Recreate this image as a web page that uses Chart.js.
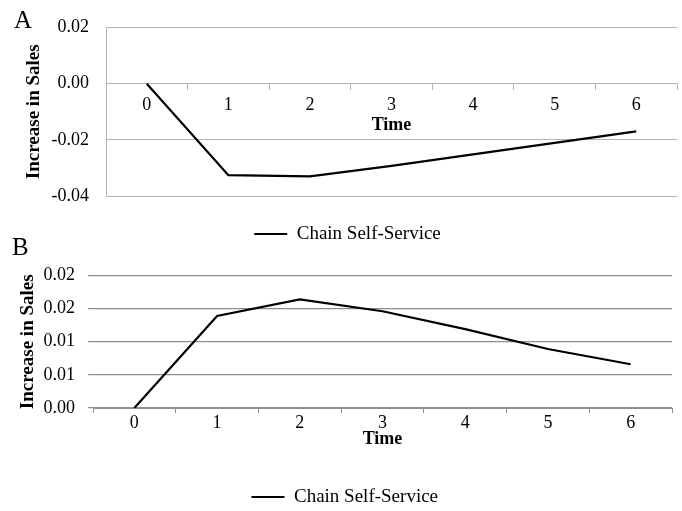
<!DOCTYPE html>
<html>
<head>
<meta charset="utf-8">
<script src="https://cdn.jsdelivr.net/npm/chart.js@4.4.1/dist/chart.umd.min.js"></script>
<style>
  html, body { margin: 0; padding: 0; background: #fff; }
  body { width: 682px; height: 511px; position: relative; overflow: hidden; }
  .panel { position: absolute; left: 0; width: 682px; }
  #wrapA { top: 0; height: 256px; }
  #wrapB { top: 250px; height: 270px; }
  .letter { position: absolute; font-family: "Liberation Serif", serif; font-size: 25px; line-height: 25px; color: #000; }
</style>
</head>
<body>
<div class="panel" id="wrapA"><canvas id="chartA"></canvas></div>
<div class="panel" id="wrapB"><canvas id="chartB"></canvas></div>
<div class="letter" style="left:14px;top:7px">A</div>
<div class="letter" style="left:12px;top:234px">B</div>
<script>
// values
const timeLabels = ['0', '1', '2', '3', '4', '5', '6'];
const seriesName = 'Chain Self-Service';
const salesA = [0, -0.0326, -0.0330, -0.0293, -0.0252, -0.0211, -0.0170];
const salesB = [0, 0.0139, 0.0164, 0.0146, 0.0119, 0.0089, 0.0066];
// tick labels, bottom to top
const yTicksA = ['-0.04', '-0.02', '0.00', '0.02'];
const yTicksB = ['0.00', '0.01', '0.01', '0.02', '0.02'];

const serif = '"Liberation Serif", "Times New Roman", serif';
const gridA = '#b3b3b3';
const gridB = '#8e8e8e';

function lineDataset(values) {
  return {
    label: seriesName,
    data: values,
    borderColor: '#000',
    backgroundColor: '#000',
    borderWidth: 2.2,
    pointRadius: 0,
    tension: 0
  };
}

function legendOpts(pad) {
  return {
    position: 'bottom',
    labels: {
      usePointStyle: true,
      pointStyle: 'line',
      pointStyleWidth: 33,
      padding: pad,
      color: '#000',
      font: { family: serif, size: 19, lineHeight: 1 }
    }
  };
}

const tickFont = { family: serif, size: 18, lineHeight: 1 };
const titleFont = { family: serif, size: 19, weight: 'bold', lineHeight: 1 };

// Panel A: x axis crosses at zero
new Chart(document.getElementById('chartA'), {
  type: 'line',
  data: { labels: timeLabels, datasets: [lineDataset(salesA)] },
  options: {
    responsive: true,
    maintainAspectRatio: false,
    animation: false,
    layout: { padding: { left: 18, right: 5, top: 27.5, bottom: 2.5 } },
    plugins: {
      legend: legendOpts(28.5),
      tooltip: { enabled: false }
    },
    scales: {
      x: {
        position: { y: 0 },
        offset: true,
        grid: { offset: true, drawOnChartArea: false, tickLength: 6, color: gridA },
        border: { display: true, color: gridA },
        ticks: { color: '#000', padding: 7, maxRotation: 0, font: tickFont },
        title: { display: true, text: 'Time', color: '#000', padding: { top: -5, bottom: 0 },
                 font: { family: serif, size: 18, weight: 'bold', lineHeight: 1 } }
      },
      y: {
        min: -0.04,
        max: 0.02,
        afterFit: (s) => { s.width = 88; },
        grid: { color: gridA, drawTicks: false },
        border: { display: true, color: gridA },
        ticks: { stepSize: 0.02, padding: 17, color: '#000', font: tickFont,
                 callback: (v, i) => yTicksA[i] },
        title: { display: true, text: 'Increase in Sales', color: '#000',
                 padding: { top: 6.5, bottom: 0 }, font: titleFont }
      }
    }
  }
});

// Panel B
new Chart(document.getElementById('chartB'), {
  type: 'line',
  data: { labels: timeLabels, datasets: [lineDataset(salesB)] },
  options: {
    responsive: true,
    maintainAspectRatio: false,
    animation: false,
    layout: { padding: { left: 17.5, right: 10, top: 25.5, bottom: 3.5 } },
    plugins: {
      legend: legendOpts(39.5),
      tooltip: { enabled: false }
    },
    scales: {
      x: {
        offset: true,
        grid: { offset: true, drawOnChartArea: false, tickLength: 5, color: gridB },
        border: { display: true, color: gridB },
        ticks: { color: '#000', padding: 1, maxRotation: 0, font: tickFont },
        title: { display: true, text: 'Time', color: '#000', padding: { top: -3, bottom: 0 },
                 font: { family: serif, size: 18, weight: 'bold', lineHeight: 1 } }
      },
      y: {
        min: 0,
        max: 0.02,
        afterFit: (s) => { s.width = 75.5; },
        grid: { color: gridB, lineWidth: 1.2, tickLength: 5 },
        border: { display: false },
        ticks: { stepSize: 0.005, padding: 13, color: '#000', font: tickFont,
                 callback: (v, i) => yTicksB[i] },
        title: { display: true, text: 'Increase in Sales', color: '#000',
                 padding: { top: 1, bottom: 0 }, font: titleFont }
      }
    }
  }
});
</script>
</body>
</html>
